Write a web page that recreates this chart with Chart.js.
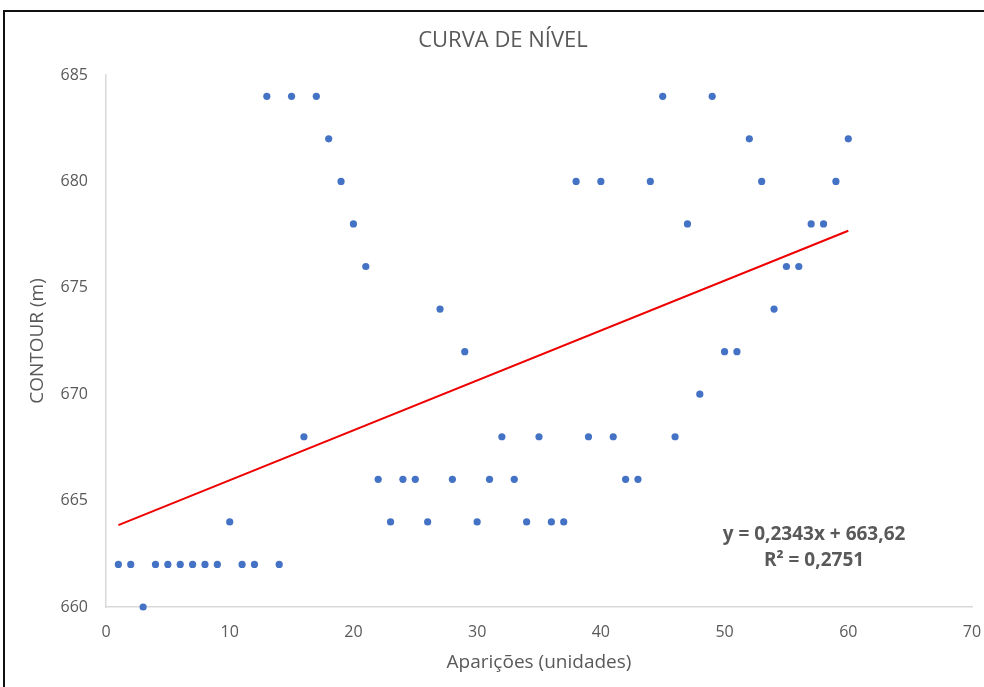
<!DOCTYPE html>
<html>
<head>
<meta charset="utf-8">
<script src="https://cdn.jsdelivr.net/npm/chart.js@4"></script>
<style>
  body { margin: 0; background: #fff; overflow: hidden; }
  #frame { position: absolute; left: 3px; top: 10px; width: 1000px; height: 700px; border: 2px solid #111; }
  #chart { position: absolute; left: 0; top: 0; }
</style>
</head>
<body>
<div id="frame"></div>
<canvas id="chart" width="984" height="687"></canvas>
<script>
// values
const aparicoes = [1, 2, 3, 4, 5, 6, 7, 8, 9, 10, 11, 12, 13, 14, 15, 16, 17, 18, 19, 20,
  21, 22, 23, 24, 25, 26, 27, 28, 29, 30, 31, 32, 33, 34, 35, 36, 37, 38, 39, 40,
  41, 42, 43, 44, 45, 46, 47, 48, 49, 50, 51, 52, 53, 54, 55, 56, 57, 58, 59, 60];
const contour = [662, 662, 660, 662, 662, 662, 662, 662, 662, 664, 662, 662, 684, 662, 684, 668, 684, 682, 680, 678,
  676, 666, 664, 666, 666, 664, 674, 666, 672, 664, 666, 668, 666, 664, 668, 664, 664, 680, 668, 680,
  668, 666, 666, 680, 684, 668, 678, 670, 684, 672, 672, 682, 680, 674, 676, 676, 678, 678, 680, 682];

// linear trendline ends (x = 1 and x = 60)
const trendX = [1, 60];
const trendY = [663.85, 677.68];

const eqLines = ["y = 0,2343x + 663,62", "R² = 0,2751"];

const grey = "#595959";
const fontName = "'Open Sans', sans-serif";

const points = aparicoes.map((x, i) => ({ x: x, y: contour[i] }));
const trend = trendX.map((x, i) => ({ x: x, y: trendY[i] }));

// draws the trendline equation like excel does
const equationLabel = {
  id: "equationLabel",
  afterDatasetsDraw(chart) {
    const ctx = chart.ctx;
    ctx.save();
    ctx.fillStyle = grey;
    ctx.font = "bold 19px " + fontName;
    ctx.textAlign = "center";
    ctx.textBaseline = "middle";
    ctx.fillText(eqLines[0], 814, 535);
    ctx.fillText(eqLines[1], 814, 561);
    ctx.restore();
  }
};

function mainEvent() {
  const chart = new Chart(document.getElementById("chart"), {
    type: "scatter",
    data: {
      datasets: [
        {
          label: "CONTOUR",
          data: points,
          backgroundColor: "#4472C4",
          borderColor: "#4472C4",
          pointRadius: 3.6,
          pointBorderWidth: 0,
          clip: false,
          order: 2
        },
        {
          type: "line",
          label: "Linear",
          data: trend,
          borderColor: "#EE0000",
          borderWidth: 2,
          pointRadius: 0,
          fill: false,
          clip: false,
          order: 1
        }
      ]
    },
    options: {
      responsive: false,
      animation: false,
      layout: { padding: { left: 22, right: 0, top: 0, bottom: 0 } },
      plugins: {
        legend: { display: false },
        tooltip: { enabled: false },
        title: {
          display: true,
          text: "CURVA DE NÍVEL",
          color: grey,
          font: { family: fontName, size: 22, weight: "normal" },
          padding: { top: 28, bottom: 20.6 }
        }
      },
      scales: {
        x: {
          type: "linear",
          min: 0, max: 70,
          ticks: { stepSize: 10, color: grey, font: { family: fontName, size: 16 }, padding: 16 },
          grid: { color: "rgba(0,0,0,0)", drawTicks: false },
          border: { display: true, color: "#D9D9D9", width: 1.5 },
          title: {
            display: true, text: "Aparições (unidades)", color: grey,
            font: { family: fontName, size: 19 }, padding: { top: 0, bottom: 13.5 }
          },
          afterFit: (scale) => { scale.height = 80; scale.paddingRight = 12; }
        },
        y: {
          type: "linear",
          min: 660, max: 685,
          ticks: { stepSize: 5, color: grey, font: { family: fontName, size: 16 }, padding: 18 },
          grid: { color: "rgba(0,0,0,0)", drawTicks: false },
          border: { display: true, color: "#D9D9D9", width: 1.5 },
          title: {
            display: true, text: "CONTOUR (m)", color: grey,
            font: { family: fontName, size: 19 }, padding: { top: 4.5, bottom: 0 }
          },
          afterFit: (scale) => { scale.width = 84; }
        }
      }
    },
    plugins: [equationLabel]
  });
  return chart;
}

document.addEventListener("DOMContentLoaded", () => mainEvent());
</script>
</body>
</html>
